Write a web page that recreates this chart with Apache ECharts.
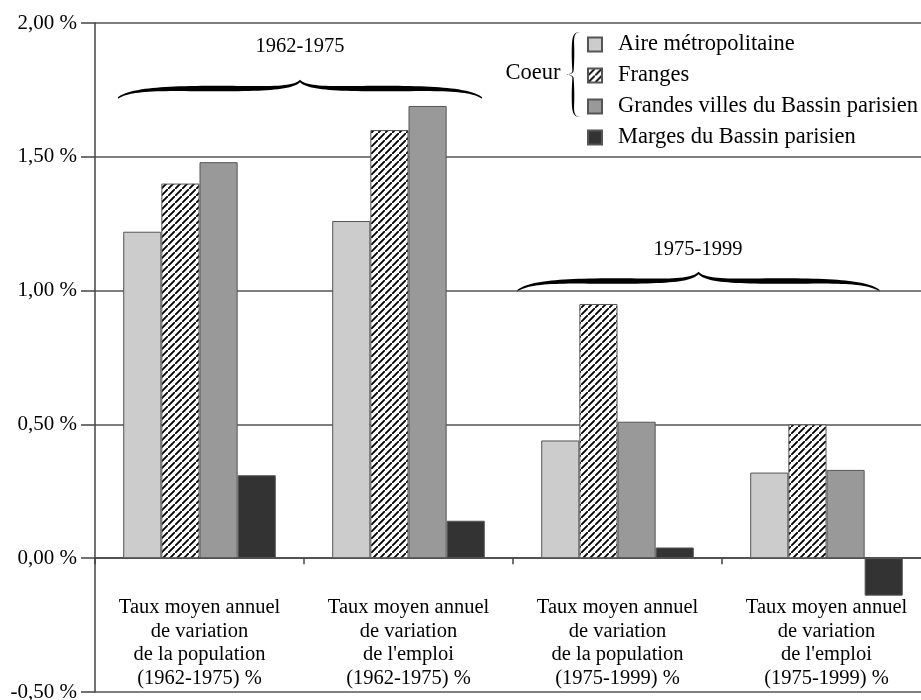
<!DOCTYPE html>
<html>
<head>
<meta charset="utf-8">
<script src="https://cdn.jsdelivr.net/npm/echarts@6/dist/echarts.min.js"></script>
<style>html,body{margin:0;padding:0;background:#fff;}#c{width:921px;height:700px;}</style>
</head>
<body>
<div id="c"></div>
<script>
const categories = [
  'Taux moyen annuel\nde variation\nde la population\n(1962-1975) %',
  'Taux moyen annuel\nde variation\nde l\'emploi\n(1962-1975) %',
  'Taux moyen annuel\nde variation\nde la population\n(1975-1999) %',
  'Taux moyen annuel\nde variation\nde l\'emploi\n(1975-1999) %'
];
const seriesNames = ['Aire métropolitaine', 'Franges', 'Grandes villes du Bassin parisien', 'Marges du Bassin parisien'];
const aire = [1.22, 1.26, 0.44, 0.32];
const franges = [1.40, 1.60, 0.95, 0.50];
const grandes = [1.48, 1.69, 0.51, 0.33];
const marges = [0.31, 0.14, 0.04, -0.14];
const yTicks = { min: -0.5, max: 2.0, interval: 0.5 };
const periodLabels = ['1962-1975', '1975-1999'];
const groupLabel = 'Coeur';

const FONT = 'Liberation Serif';

// hatch pattern
const T = 7;
const pc = document.createElement('canvas');
pc.width = T; pc.height = T;
const pctx = pc.getContext('2d');
pctx.fillStyle = '#fff'; pctx.fillRect(0, 0, T, T);
pctx.strokeStyle = '#000'; pctx.lineWidth = 1.9;
pctx.beginPath();
pctx.moveTo(-1, T + 1); pctx.lineTo(T + 1, -1);
pctx.moveTo(-T - 1, 1); pctx.lineTo(1, -T - 1);
pctx.moveTo(T - 1, 2 * T + 1); pctx.lineTo(2 * T + 1, T - 1);
pctx.stroke();
const hatch = { image: pc, repeat: 'repeat' };

const colors = ['#cccccc', hatch, '#999999', '#333333'];
const values = [aire, franges, grandes, marges];

function bez(p, t) {
  const m = 1 - t;
  return [
    m*m*m*p[0] + 3*m*m*t*p[2] + 3*m*t*t*p[4] + t*t*t*p[6],
    m*m*m*p[1] + 3*m*m*t*p[3] + 3*m*t*t*p[5] + t*t*t*p[7]
  ];
}
function sample(segs) {
  const pts = [];
  segs.forEach((s, k) => {
    for (let i = (k === 0 ? 0 : 1); i <= 24; i++) pts.push(bez(s, i / 24));
  });
  return pts;
}
// horizontal brace as tapered filled polygon
function hbrace(x1, x2, yE, yM, yT, tMax) {
  const xm = (x1 + x2) / 2;
  const pts = sample([
    [x1, yE, x1 + 12, yM + 1, x1 + 40, yM, x1 + 90, yM],
    [x1 + 90, yM, xm - 40, yM, xm - 8, yM + 1, xm, yT],
    [xm, yT, xm + 8, yM + 1, xm + 40, yM, x2 - 90, yM],
    [x2 - 90, yM, x2 - 40, yM, x2 - 12, yM + 1, x2, yE]
  ]);
  const up = [], lo = [];
  pts.forEach(p => {
    const s = p[0] <= xm ? (p[0] - x1) / (xm - x1) : (x2 - p[0]) / (x2 - xm);
    const th = 1.6 + (tMax - 1.6) * Math.pow(Math.sin(Math.PI * Math.min(Math.max(s, 0), 1) * 0.9 + 0.05), 1.2);
    up.push([p[0], p[1] - th / 2]);
    lo.push([p[0], p[1] + th / 2]);
  });
  return { type: 'polygon', silent: true, shape: { points: up.concat(lo.reverse()) }, style: { fill: '#000' } };
}
function vbrace(x, y1, y2, xTip, tMax) {
  const ym = (y1 + y2) / 2;
  const d = x - xTip;
  const pts = sample([
    [x + 8, y1, x + 1, y1, x, y1 + 4, x, y1 + 13],
    [x, y1 + 13, x, y1 + 25, x, ym - 10, x, ym - 4],
    [x, ym - 4, x, ym - 1, x - d * 0.6, ym, xTip, ym],
    [xTip, ym, x - d * 0.6, ym, x, ym + 1, x, ym + 4],
    [x, ym + 4, x, ym + 10, x, y2 - 25, x, y2 - 13],
    [x, y2 - 13, x, y2 - 4, x + 1, y2, x + 8, y2]
  ]);
  const l = [], r = [];
  pts.forEach(p => {
    const s = p[1] <= ym ? (p[1] - y1) / (ym - y1) : (y2 - p[1]) / (y2 - ym);
    const th = 0.8 + (tMax - 0.8) * Math.sin(Math.PI * Math.min(Math.max(s, 0), 1));
    l.push([p[0] - th / 2, p[1]]);
    r.push([p[0] + th / 2, p[1]]);
  });
  return { type: 'polygon', silent: true, shape: { points: l.concat(r.reverse()) }, style: { fill: '#000' } };
}

const chart = echarts.init(document.getElementById('c'), null, { renderer: 'canvas' });
chart.setOption({
  animation: false,
  backgroundColor: '#fff',
  textStyle: { fontFamily: FONT },
  grid: { left: 95, right: -10, top: 23, bottom: 8, outerBoundsMode: 'none', containLabel: false },
  legend: {
    orient: 'vertical',
    left: 587, top: 33, padding: 0,
    itemWidth: 14, itemHeight: 14, itemGap: 8,
    icon: 'rect',
    data: seriesNames,
    textStyle: { fontFamily: FONT, fontSize: 22.5, color: '#000', lineHeight: 21, padding: [0, 0, 0, 11] }
  },
  xAxis: [{
    type: 'category',
    data: categories,
    axisLine: { onZero: true, lineStyle: { color: '#444', width: 1.5 } },
    axisTick: { show: true, length: 6, lineStyle: { color: '#444', width: 1.5 } },
    axisLabel: { show: false },
    splitLine: { show: false }
  }, {
    type: 'category',
    data: categories,
    position: 'bottom',
    axisLine: { show: false, onZero: false },
    axisTick: { show: false },
    axisLabel: { show: true, fontFamily: FONT, fontSize: 20.5, color: '#000', lineHeight: 23.5, margin: -96, interval: 0, hideOverlap: false },
    splitLine: { show: false }
  }],
  yAxis: {
    type: 'value',
    min: yTicks.min, max: yTicks.max, interval: yTicks.interval,
    axisLine: { show: true, lineStyle: { color: '#444', width: 1.5 } },
    axisTick: { show: true, length: 14, lineStyle: { color: '#444', width: 1.5 } },
    axisLabel: {
      fontFamily: FONT, fontSize: 21, color: '#000', margin: 18,
      formatter: v => v.toFixed(2).replace('.', ',') + ' %'
    },
    splitLine: { show: true, lineStyle: { color: '#555', width: 1.5 } }
  },
  series: seriesNames.map((n, i) => ({
    name: n,
    type: 'bar',
    xAxisIndex: 0,
    data: values[i],
    barGap: 0,
    barCategoryGap: '27%',
    itemStyle: { color: colors[i], borderColor: '#555', borderWidth: 1 }
  })),
  graphic: [
    { type: 'text', silent: true, style: { text: periodLabels[0], fontFamily: FONT, fontSize: 20.5, fill: '#000', x: 300, y: 47, align: 'center', verticalAlign: 'middle' } },
    { type: 'text', silent: true, style: { text: periodLabels[1], fontFamily: FONT, fontSize: 20.5, fill: '#000', x: 698, y: 250, align: 'center', verticalAlign: 'middle' } },
    { type: 'text', silent: true, style: { text: groupLabel, fontFamily: FONT, fontSize: 22.5, fill: '#000', x: 533, y: 73, align: 'center', verticalAlign: 'middle' } },
    hbrace(118, 482, 98, 88.5, 81, 5.5),
    hbrace(517, 880, 291, 281, 273, 5.5),
    vbrace(573, 32, 117, 566, 2.6)
  ]
});
</script>
</body>
</html>
